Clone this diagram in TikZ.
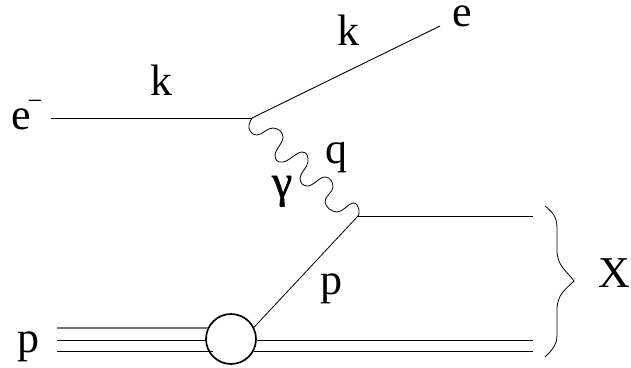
\documentclass[tikz,border=0pt]{standalone}
\usepackage{fontspec}
\setmainfont{Liberation Serif}
\newfontfamily\gammafont[FakeBold=1]{Liberation Serif}
\tikzset{
  lbl/.style={inner sep=0pt,outer sep=0pt,anchor=base west,font=\fontsize{44}{48}\selectfont},
  fermion/.style={draw=black,line width=1pt},
  photon/.style={draw=black,line width=0.8pt},
  blob/.style={circle,draw=black,fill=white,line width=1.7pt,minimum size=50pt,inner sep=0pt},
}
\begin{document}
\begin{tikzpicture}[x=1pt,y=-1pt]
\useasboundingbox (0,0) rectangle (631,367);
% anchor points
\coordinate (ein) at (51,118);
\coordinate (v1) at (252,118);
\coordinate (eout) at (440,26);
\coordinate (v2) at (358,216);
\coordinate (qend) at (533,216);
\coordinate (pa) at (57,328);
\coordinate (pb) at (57,340);
\coordinate (pc) at (57,351);
\coordinate (xb) at (533,340);
\coordinate (xc) at (533,351);
\coordinate (pae) at (208,328);
\coordinate (pbe) at (206,340);
\coordinate (pce) at (213,351);
\node[blob] (blobn) at (231,339) {};
\draw[fermion,draw=black!55,line width=1.2pt] (pa) -- (pae);
\draw[fermion] (pb) -- (pbe);
\draw[fermion] (pc) -- (pce);
\draw[fermion] (blobn.east |- xb) -- (xb);
\draw[fermion] (blobn.east |- xc) ++(-3,0) -- (xc);
\draw[fermion,line width=0.8pt] (blobn.27) -- (v2);
\draw[fermion] (v2) -- (qend);
\draw[fermion] (ein) -- (v1);
\draw[fermion,line width=0.9pt] (v1) -- (eout);
% photon
\draw[photon] plot[smooth,tension=0.75] coordinates {
 (v1) (249,128) (257,135) (273,128) (283,137) (275,155) (283,162) (302,152)
 (308,162) (300,178) (308,186) (325,177) (333,187) (325,202) (337,212)
 (353,203) (359,210) (v2)};
% brace
\draw[draw=black,line width=0.8pt] (545,206) .. controls (552,212) and (557,216) .. (557,228)
  -- (557,250) .. controls (557,266) and (566,270) .. (574,281)
  .. controls (566,289) and (557,294) .. (557,310)
  -- (557,335) .. controls (557,345) and (552,350) .. (545,357);
% labels
\node[lbl] (lein) at (11,129) {e\kern-3pt\raisebox{20pt}{\fontsize{26}{26}\selectfont −}};
\node[lbl] (lk1) at (150,95) {k};
\node[lbl] (lk2) at (337,45) {k};
\node[lbl] (leout) at (452,26) {e};
\node[lbl] (lq) at (325,163) {q};
\node[lbl,font=\fontsize{46}{50}\gammafont] (lg) at (272,197) {γ};
\node[lbl] (lp) at (320,294) {p};
\node[lbl] (lpin) at (17,352) {p};
\node[lbl] (lX) at (598,287) {X};
\end{tikzpicture}
\end{document}
